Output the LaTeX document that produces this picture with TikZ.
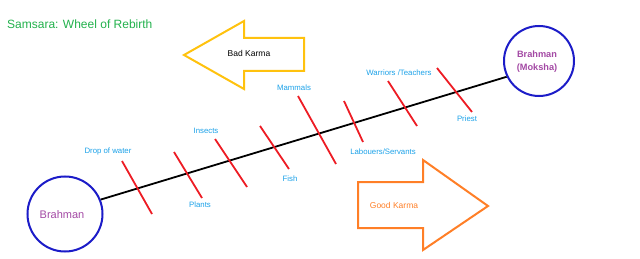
\documentclass[tikz,border=0pt]{standalone}
\usepackage{fontspec}
\setmainfont{Liberation Sans}
\definecolor{titlegreen}{HTML}{22B14C}
\definecolor{lblue}{HTML}{1BA1E8}
\definecolor{cblue}{HTML}{1C1CC8}
\definecolor{bpurple}{HTML}{A349A4}
\definecolor{kgold}{HTML}{FFC20E}
\definecolor{korange}{HTML}{FF7F27}
\definecolor{tred}{HTML}{ED1C24}
\begin{document}
\begin{tikzpicture}[x=1pt,y=-1pt,
  circ/.style={circle,draw=cblue,line width=2pt,inner sep=0pt},
  stage/.style={text=lblue,font=\fontsize{7.8}{9}\selectfont,inner sep=0pt},
  tick/.style={draw=tred,line width=1.8pt},
  axis/.style={draw=black,line width=1.8pt},
  karma/.style={line width=2pt,line join=miter}]
\useasboundingbox (0,0) rectangle (640,259);
% title
\node[anchor=west,text=titlegreen,font=\fontsize{12}{14}\selectfont,inner sep=0pt] (title) at (7,24) {Samsara: Wheel of Rebirth};
% circles
\node[circ,minimum size=75pt] (L) at (65,214) {};
\node[text=bpurple,font=\fontsize{11}{13}\selectfont,inner sep=0pt] (Ltext) at (62,215) {Brahman};
\node[circ,minimum size=70pt] (R) at (539,61) {};
\node[text=bpurple,font=\bfseries\fontsize{9.2}{11}\selectfont,inner sep=0pt] (Rt1) at (537,54) {Brahman};
\node[text=bpurple,font=\bfseries\fontsize{9.2}{11}\selectfont,inner sep=0pt] (Rt2) at (537,68) {(Moksha)};
% main line
\draw[axis] (L.22) -- (R.206);
% ticks
\draw[tick] (122,161) -- (152,214);
\draw[tick] (174,152) -- (202,198);
\draw[tick] (215,139) -- (247,187);
\draw[tick] (260,126) -- (289,169);
\draw[tick] (298,96) -- (336,164);
\draw[tick] (344,101) -- (363,142);
\draw[tick] (388,81) -- (417,126);
\draw[tick] (437,68) -- (472,112);
% labels
\node[stage] (s1) at (108,151) {Drop of water};
\node[stage] (s2) at (200,205) {Plants};
\node[stage] (s3) at (206,131) {Insects};
\node[stage] (s4) at (290,179) {Fish};
\node[stage] (s5) at (294,88) {Mammals};
\node[stage] (s6) at (383,152) {Labouers/Servants};
\node[stage] (s7) at (399,73) {Warriors /Teachers};
\node[stage] (s8) at (467,119) {Priest};
% bad karma arrow
\draw[karma,draw=kgold] (184,55) -- (244,21) -- (244,38) -- (304,38) -- (304,71) -- (244,71) -- (244,89) -- cycle;
\node[font=\fontsize{8.5}{10}\selectfont,inner sep=0pt] (bad) at (249,53) {Bad Karma};
% good karma arrow
\draw[karma,draw=korange] (358,182) -- (423,182) -- (423,160) -- (488,206) -- (423,250) -- (423,228) -- (358,228) -- cycle;
\node[text=korange,font=\fontsize{8.5}{10}\selectfont,inner sep=0pt] (good) at (394,205) {Good Karma};
\end{tikzpicture}
\end{document}
